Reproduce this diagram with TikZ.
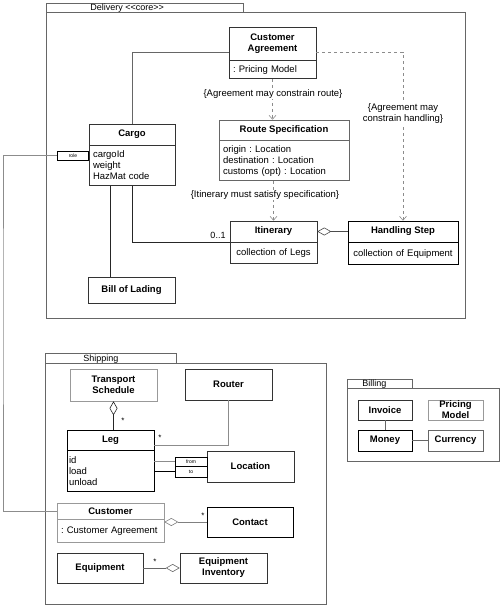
\documentclass[tikz,border=0pt]{standalone}
\usepackage{fontspec}
\setmainfont{Liberation Sans}
\usetikzlibrary{arrows.meta}
\frenchspacing

\tikzset{
  box/.style={draw=black!80, line width=.6pt, inner sep=0pt, align=center,
    font=\fontsize{9.5}{11}\selectfont\bfseries},
  body/.style={draw=black!80, line width=.6pt, inner xsep=4pt, inner ysep=0pt, align=left},
  pale/.style={draw=black!40},
  pkg/.style={draw=black!60, line width=.6pt, inner sep=0pt},
  qual/.style={draw=black, line width=.9pt, inner sep=0pt, font=\fontsize{5}{5}\selectfont},
  dep/.style={draw=black!45, dashed, -{Straight Barb[length=4pt,width=7pt]}},
  agg/.style={-{Diamond[open,length=14pt,width=8pt]}},
  mult/.style={inner sep=0pt, font=\fontsize{8}{8}\selectfont},
  note/.style={fill=white, inner sep=1pt, align=center},
  tabtext/.style={anchor=west, inner sep=0pt, font=\fontsize{9}{9}\selectfont}
}

\begin{document}
\begin{tikzpicture}[x=1pt, y=-1pt, line width=.6pt, font=\fontsize{9.5}{11}\selectfont]
\useasboundingbox (0,0) rectangle (500,605);

\node[pkg, minimum width=197pt, minimum height=9pt] (deltab) at (144.5,7.5) {};
\node[pkg, minimum width=419pt, minimum height=306pt] (delivery) at (255.5,165) {};
\node[tabtext] (deltext) at (90,8.5) {Delivery <\kern0pt<core>\kern0pt>};

\node[box, minimum width=87pt, minimum height=33pt] (agreement) at (272.5,43.5) {Customer\\Agreement};
\node[body, text width=79pt, minimum height=18pt, anchor=north] (agreementb) at (agreement.south) {: Pricing Model};

\node[box, draw=black!60, minimum width=130pt, minimum height=20pt] (route) at (284,130) {Route Specification};
\node[body, draw=black!60, text width=122pt, minimum height=40pt, anchor=north] (routeb) at (route.south) {origin : Location\\destination : Location\\customs (opt) : Location};

\node[box, minimum width=86pt, minimum height=21pt] (cargo) at (132,134.5) {Cargo};
\node[body, text width=78pt, minimum height=40pt, anchor=north] (cargob) at (cargo.south) {cargoId\\weight\\HazMat code};
\node[qual, minimum width=31pt, minimum height=9pt] (role) at (73,155.5) {role};

\node[box, minimum width=87pt, minimum height=21pt] (itinerary) at (273.5,231.5) {Itinerary};
\node[body, align=center, text width=79pt, minimum height=21pt, anchor=north] (itineraryb) at (itinerary.south) {collection of Legs};
\node[box, draw=black, minimum width=110pt, minimum height=21pt] (handling) at (403,231.5) {Handling Step};
\node[body, draw=black, align=center, text width=102pt, minimum height=22pt, anchor=north] (handlingb) at (handling.south) {collection of Equipment};
\node[box, minimum width=87pt, minimum height=26pt] (lading) at (131.5,290) {Bill of Lading};

\draw[black!60] (cargo.north) |- ([yshift=-8.5pt]agreement.west);
\draw[dep] ([yshift=-8.5pt]agreement.east) -| (handling.north);
\draw[dep] (agreementb.south) -- (agreementb.south |- route.north);
\draw[dep] (itinerary.north |- routeb.south) -- (itinerary.north);
\draw[black!85] (cargob.south) |- (itineraryb.north west);
\draw[black!85] ([xshift=-22pt]cargob.south) -- ([xshift=-22pt]cargob.south |- lading.north);
\draw[black!70, agg] (handling.west) -- (itinerary.east);

\node[note] (routenote) at (273,94) {\{Agreement may constrain route\}};
\node[note] (handlingnote) at (403,114) {\{Agreement may\\constrain handling\}};
\node[note] (itinnote) at (265,195) {\{Itinerary must satisfy specification\}};
\node[mult, font=\fontsize{9}{9}\selectfont] (zeroone) at (218,235) {0..1};

\node[pkg, minimum width=131pt, minimum height=10pt] (shiptab) at (110.5,358) {};
\node[pkg, minimum width=281pt, minimum height=241pt] (shipping) at (185.5,483.5) {};
\node[tabtext] (shiptext) at (83,359) {Shipping};

\node[box, pale, minimum width=87pt, minimum height=32pt] (schedule) at (113.5,385) {Transport\\Schedule};
\node[box, minimum width=87pt, minimum height=31pt] (router) at (228.5,384.5) {Router};
\node[box, draw=black, minimum width=87pt, minimum height=20pt] (leg) at (110.5,440) {Leg};
\node[body, draw=black, inner xsep=2pt, text width=83pt, minimum height=41pt, anchor=north] (legb) at (leg.south) {id\\load\\unload};
\node[box, minimum width=87pt, minimum height=31pt] (location) at (250.5,466.5) {Location};
\node[qual, minimum width=32pt, minimum height=9pt] (from) at (191,461.5) {from};
\node[qual, minimum width=32pt, minimum height=11pt] (to) at (191,471.5) {to};

\node[box, pale, minimum width=107pt, minimum height=16pt] (customer) at (110.5,511) {Customer};
\node[body, pale, text width=99pt, minimum height=23pt, anchor=north] (customerb) at (customer.south) {: Customer Agreement};
\node[box, draw=black, minimum width=86pt, minimum height=30pt] (contact) at (250,522) {Contact};
\node[box, minimum width=86pt, minimum height=30pt] (equipment) at (100,568) {Equipment};
\node[box, minimum width=87pt, minimum height=30pt] (inventory) at (223.5,568) {Equipment\\Inventory};

\draw[black!85, agg] (leg.north -| schedule.south) -- (schedule.south);
\node[mult] (legstar) at (123,421) {*};
\draw[black!45] (router.south) |- ([yshift=-5pt]leg.east);
\node[mult] (routerstar) at (160,438) {*};
\draw[black!45] (from.west) -- (from.west -| legb.east);
\draw[black] (to.west) -- (to.west -| legb.east);
\draw[black!50, agg] (contact.west) -- (contact.west -| customerb.east);
\node[mult] (contactstar) at (203,516) {*};
\draw[black!60, agg] (equipment.east) -- (inventory.west);
\node[mult] (equipstar) at (155,562) {*};

\coordinate (rolebend) at (3,300);
\draw[black!45] (role.west) -| (rolebend) |- (customer.west);

\node[pkg, minimum width=65pt, minimum height=9pt] (billtab) at (379.5,383.5) {};
\node[pkg, minimum width=152pt, minimum height=73pt] (billing) at (423,424.5) {};
\node[tabtext] (billtext) at (362,384.5) {Billing};

\node[box, minimum width=54pt, minimum height=20pt] (invoice) at (385,410) {Invoice};
\node[box, pale, minimum width=55pt, minimum height=20pt] (pricing) at (455.5,410) {Pricing\\Model};
\node[box, draw=black, line width=.9pt, minimum width=54pt, minimum height=21pt] (money) at (385,440.5) {Money};
\node[box, draw=black!60, minimum width=55pt, minimum height=21pt] (currency) at (455.5,440.5) {Currency};
\draw[black!60] (invoice) -- (money);
\draw[black!60] (money) -- (currency);
\end{tikzpicture}
\end{document}
